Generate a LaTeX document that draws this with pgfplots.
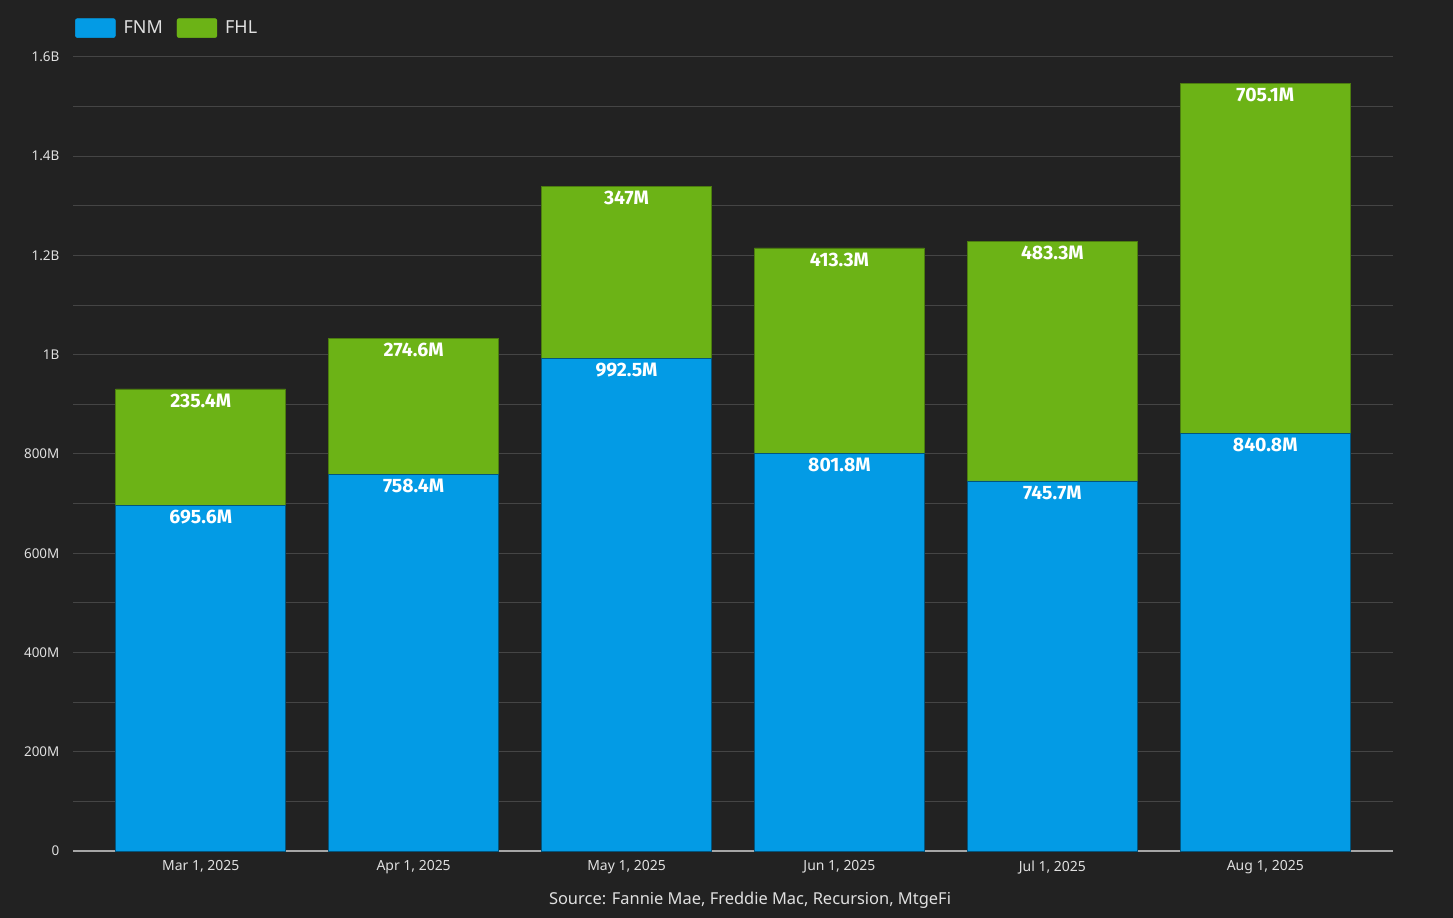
\documentclass[border=0pt]{standalone}
\usepackage{fontspec}
\setmainfont{Noto Sans}
\newfontfamily\labfont{Fira Sans}
\usepackage{pgfplots}
\pgfplotsset{compat=1.18}
\definecolor{bg}{HTML}{222222}
\definecolor{gridc}{HTML}{454545}
\definecolor{fnm}{HTML}{039BE5}
\definecolor{fhl}{HTML}{6CB316}
\definecolor{txt}{HTML}{E0E0E0}

\pgfplotsset{
    frame/.style={
        at={(0,0)}, anchor=south west,
        scale only axis, width=1320bp, height=794bp,
        xmin=-0.6, xmax=5.6, ymin=0, ymax=1600,
    },
}

\begin{document}
\begin{tikzpicture}
\fill[bg] (-73bp,-67bp) rectangle (1380bp,851bp);
\begin{axis}[
    frame,
    ybar stacked, bar width=170bp,
    xtick={0,1,2,3,4,5},
    xticklabels={{Mar 1, 2025},{Apr 1, 2025},{May 1, 2025},{Jun 1, 2025},{Jul 1, 2025},{Aug 1, 2025}},
    ytick={0,200,400,600,800,1000,1200,1400,1600},
    yticklabels={0,200M,400M,600M,800M,1B,1.2B,1.4B,1.6B},
    minor ytick={100,300,500,700,900,1100,1300,1500},
    ymajorgrids, yminorgrids,
    major grid style={draw=gridc, line width=1bp},
    minor grid style={draw=gridc, line width=1bp},
    axis x line=bottom, axis y line=left,
    axis line style={-},
    x axis line style={draw=black!35, line width=1.3bp},
    y axis line style={draw=none},
    tick style={draw=none},
    xticklabel style={text=txt, font=\fontsize{14}{16}\selectfont, yshift=-4bp},
    yticklabel style={text=txt, font=\fontsize{13.5}{16}\selectfont, xshift=-8bp},
    legend style={at={(0,1)}, anchor=south west, xshift=-1bp, yshift=17bp,
        draw=none, fill=none, text=txt, font=\fontsize{18}{21}\selectfont},
    legend columns=2,
    legend cell align=left,
    /tikz/every even column/.append style={column sep=12bp},
]
\addlegendimage{legend image code/.code={\fill[fnm, rounded corners=2bp] (0bp,-9.5bp) rectangle (40bp,9.5bp); \path (46bp,0bp);}}
\addlegendentry{FNM}
\addlegendimage{legend image code/.code={\fill[fhl, rounded corners=2bp] (0bp,-9.5bp) rectangle (40bp,9.5bp); \path (46bp,0bp);}}
\addlegendentry{FHL}

% FNM
\addplot[fill=fnm, draw=fnm!55!black, line width=0.8bp, forget plot] coordinates {
    (0,695.6) (1,758.4) (2,992.5) (3,801.8) (4,745.7) (5,840.8)
};
% FHL
\addplot[fill=fhl, draw=fhl!70!black, line width=0.8bp, forget plot] coordinates {
    (0,235.4) (1,274.6) (2,347.0) (3,413.3) (4,483.3) (5,705.1)
};
\end{axis}

% value labels at the top of each segment
\begin{axis}[
    frame, hide axis,
    point meta=explicit symbolic,
    nodes near coords,
    every node near coord/.append style={anchor=north, inner sep=0pt, yshift=-4.5bp,
        text=white, font=\labfont\bfseries\fontsize{19.5}{22}\selectfont},
]
\addplot[draw=none, mark=none] coordinates {
    (0,695.6) [695.6M] (1,758.4) [758.4M] (2,992.5) [992.5M]
    (3,801.8) [801.8M] (4,745.7) [745.7M] (5,840.8) [840.8M]
};
\addplot[draw=none, mark=none] coordinates {
    (0,931.0) [235.4M] (1,1033.0) [274.6M] (2,1339.5) [347M]
    (3,1215.1) [413.3M] (4,1229.0) [483.3M] (5,1545.9) [705.1M]
};
\end{axis}
\node[text=txt, font=\fontsize{16.5}{19}\selectfont] at (677bp,-49bp) {Source: Fannie Mae, Freddie Mac, Recursion, MtgeFi};
\pgfresetboundingbox
\path (-73bp,-67bp) rectangle (1380bp,851bp);
\end{tikzpicture}
\end{document}
